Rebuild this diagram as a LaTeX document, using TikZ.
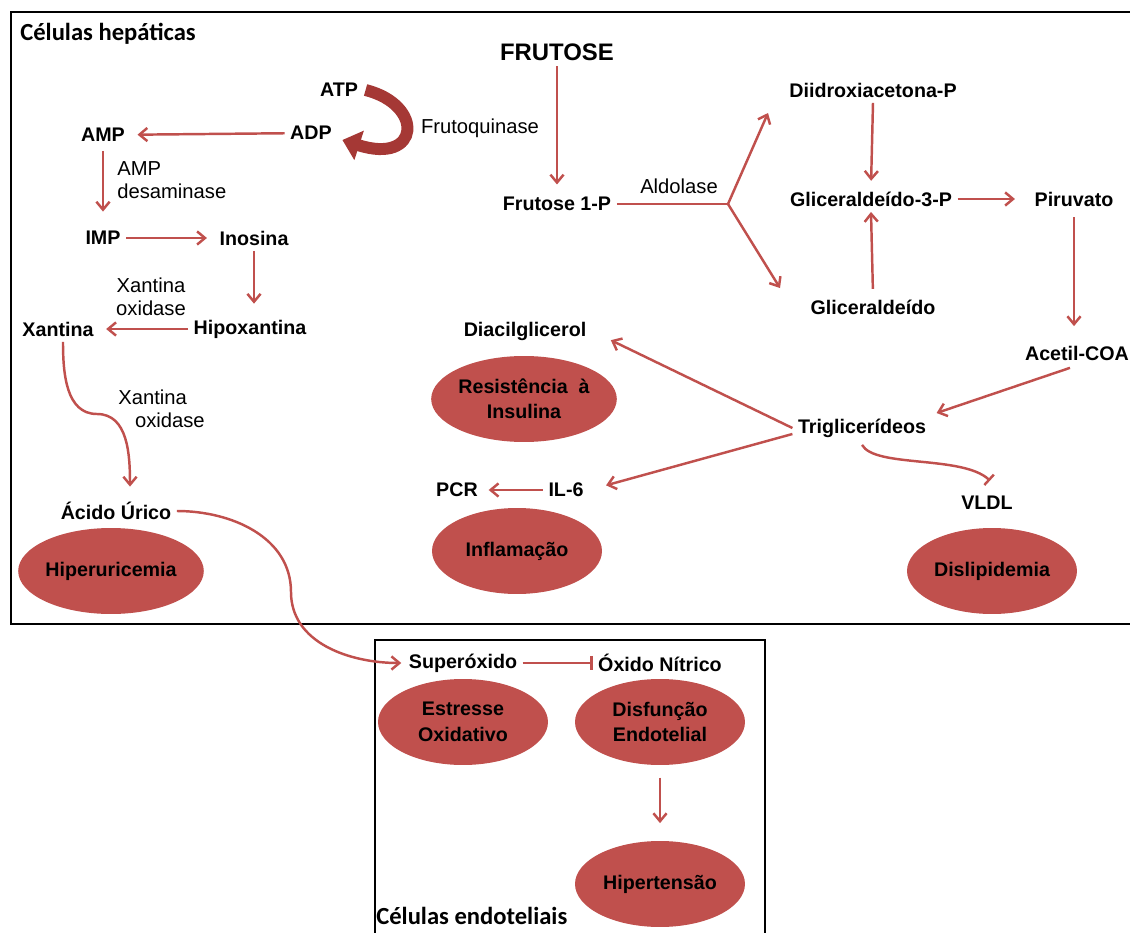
\documentclass[tikz,border=0pt]{standalone}
\usepackage{fontspec}
\setmainfont{Liberation Sans}
\newfontfamily\calfont{Carlito}
\usetikzlibrary{arrows.meta,shapes.geometric,calc}
\definecolor{pathred}{RGB}{192,80,77}
\definecolor{atpred}{RGB}{165,56,53}

\begin{document}
\begin{tikzpicture}[x=0.02cm, y=-0.02cm,
    mol/.style={font=\fontsize{11.2}{13.5}\selectfont\bfseries, inner sep=3pt},
    enz/.style={font=\fontsize{11.5}{13.4}\selectfont, inner sep=0pt},
    ill/.style={ellipse, fill=pathred, inner sep=0pt, minimum width=3.4cm, minimum height=1.72cm,
      align=center, font=\fontsize{11.2}{14.5}\selectfont\bfseries},
    arr/.style={pathred, line width=1.4pt, -{Straight Barb[length=4.5pt,width=7.5pt]}},
    inh/.style={pathred, line width=1.4pt, -{Bar[width=8pt]}},
    cell/.style={font=\calfont\fontsize{14}{17}\selectfont\bfseries, anchor=west, inner sep=0pt}]

  \useasboundingbox (0,0) rectangle (1130,933);

  % compartments
  \draw [line width=1.7pt] (1140,12) -- (11,12) -- (11,624) -- (1140,624);
  \draw [line width=1.2pt] (375,945) -- (375,640) -- (765,640) -- (765,945);
  \node [cell] (hep) at (20,34) {Células hepáticas};
  \node [cell] (endo) at (376,916) {Células endoteliais};

  % purine side
  \node [mol] (atp) at (339,90) {ATP};
  \node [mol] (adp) at (311,133) {ADP};
  \node [mol] (amp) at (103,135) {AMP};
  \node [mol] (imp) at (103,238) {IMP};
  \node [mol] (ino) at (254,238) {Inosina};
  \node [mol] (hipo) at (250,329) {Hipoxantina};
  \node [mol] (xan) at (58,329) {Xantina};
  \node [mol] (acu) at (116,511) {Ácido Úrico};
  \node [ill] (hiperu) at (111,571) {Hiperuricemia};

  \node [enz] (fqk) at (480,128) {Frutoquinase};
  \node [enz, align=left, anchor=west] (ampd) at (117,180) {AMP\\desaminase};
  \node [enz, align=center] (xo1) at (151,297) {Xantina\\oxidase};
  \node [enz, align=left, anchor=west] (xo2) at (118,409) {Xantina\\\hspace*{9.5pt}oxidase};

  \draw [atpred, line width=6.8pt, -{Triangle[length=10pt,width=17pt]}]
    ($(atp.east)+(2,0)$) .. controls (425,105) and (420,165) .. ($(adp.east)+(5,7)$);
  \draw [arr, shorten >=4pt] (adp) -- (amp);
  \draw [arr, shorten <=2pt, shorten >=8pt] (amp.south) -- (imp.north);
  \draw [arr, shorten >=4pt] (imp) -- (ino);
  \draw [arr, shorten >=6pt] (ino.south) -- (ino.south |- hipo.north);
  \draw [arr, shorten >=4pt] (hipo) -- (xan);
  \coordinate (xbend) at (97,414);
  \draw [arr] ($(xan.south)+(5,0)$) to[out=-90, in=180] (xbend) to[out=0, in=90] ($(acu.north)+(14,-10)$);

  % fructose side
  \node [mol, font=\fontsize{13.6}{16}\selectfont\bfseries] (fru) at (557,52) {FRUTOSE};
  \node [mol] (f1p) at (557,204) {Frutose 1-P};
  \node [enz] (ald) at (679,186) {Aldolase};
  \node [mol] (dhap) at (873,90) {Diidroxiacetona-P};
  \node [mol] (g3p) at (871,199) {Gliceraldeído-3-P};
  \node [mol] (gli) at (873,307) {Gliceraldeído};
  \node [mol] (piru) at (1074,199) {Piruvato};
  \node [mol] (acoa) at (1077,353) {Acetil-COA};
  \node [mol] (trig) at (862,428) {Triglicerídeos};
  \node [mol] (dag) at (525,331) {Diacilglicerol};
  \node [mol] (il6) at (566,490) {IL-6};
  \node [mol] (pcr) at (457,490) {PCR};
  \node [mol] (vldl) at (987,503) {VLDL};
  \node [ill] (resis) at (524,399) {Resistência \ à\\Insulina};
  \node [ill] (infl) at (517,551) {Inflamação};
  \node [ill] (disl) at (992,571) {Dislipidemia};

  \coordinate (br) at (728,204);
  \coordinate (dhapin) at (768,113);
  \coordinate (gliin) at (780,288);
  \draw [arr, shorten >=4pt] (fru.south) -- (f1p.north);
  \draw [pathred, line width=1.4pt] (f1p.east) -- (br);
  \draw [arr] (br) -- (dhapin);
  \draw [arr] (br) -- (gliin);
  \draw [arr, shorten >=3pt] (dhap.south) -- (g3p.north);
  \draw [arr, shorten <=3pt] (gli.north) -- (g3p.south);
  \draw [arr, shorten >=8pt] (g3p) -- (piru);
  \draw [arr, shorten <=3pt, shorten >=8pt] (piru.south) -- (piru.south |- acoa.north);
  \draw [arr] ($(acoa.south)+(-7,2)$) -- ($(trig.east)+(5,-15)$);
  \draw [arr, shorten >=12pt] (trig.west) -- (dag.east);
  \draw [arr, shorten >=10pt] ($(trig.west)+(0,6)$) -- (il6.east);
  \draw [arr, shorten >=3pt] (il6) -- (pcr);
  \draw [inh] ($(trig.south)+(0,2)$) .. controls (875,468) and (962,455) .. ($(vldl.north)+(3,-10)$);

  % endothelium
  \node [mol] (sup) at (463,663) {Superóxido};
  \node [mol] (ono) at (660,663) {Óxido Nítrico};
  \node [ill] (estr) at (463,722) {Estresse\\Oxidativo};
  \node [ill] (disf) at (660,722) {Disfunção\\Endotelial};
  \node [ill] (hipert) at (660,884) {Hipertensão};

  \coordinate (ubend) at (291,592);
  \draw [arr] (acu.east) to[out=0, in=90] (ubend) to[out=-90, in=180] ($(sup.west)+(-2,0)$);
  \draw [inh] (sup) -- (ono);
  \draw [arr, shorten <=7pt, shorten >=10pt] (disf.south) -- (hipert.north);
\end{tikzpicture}
\end{document}
